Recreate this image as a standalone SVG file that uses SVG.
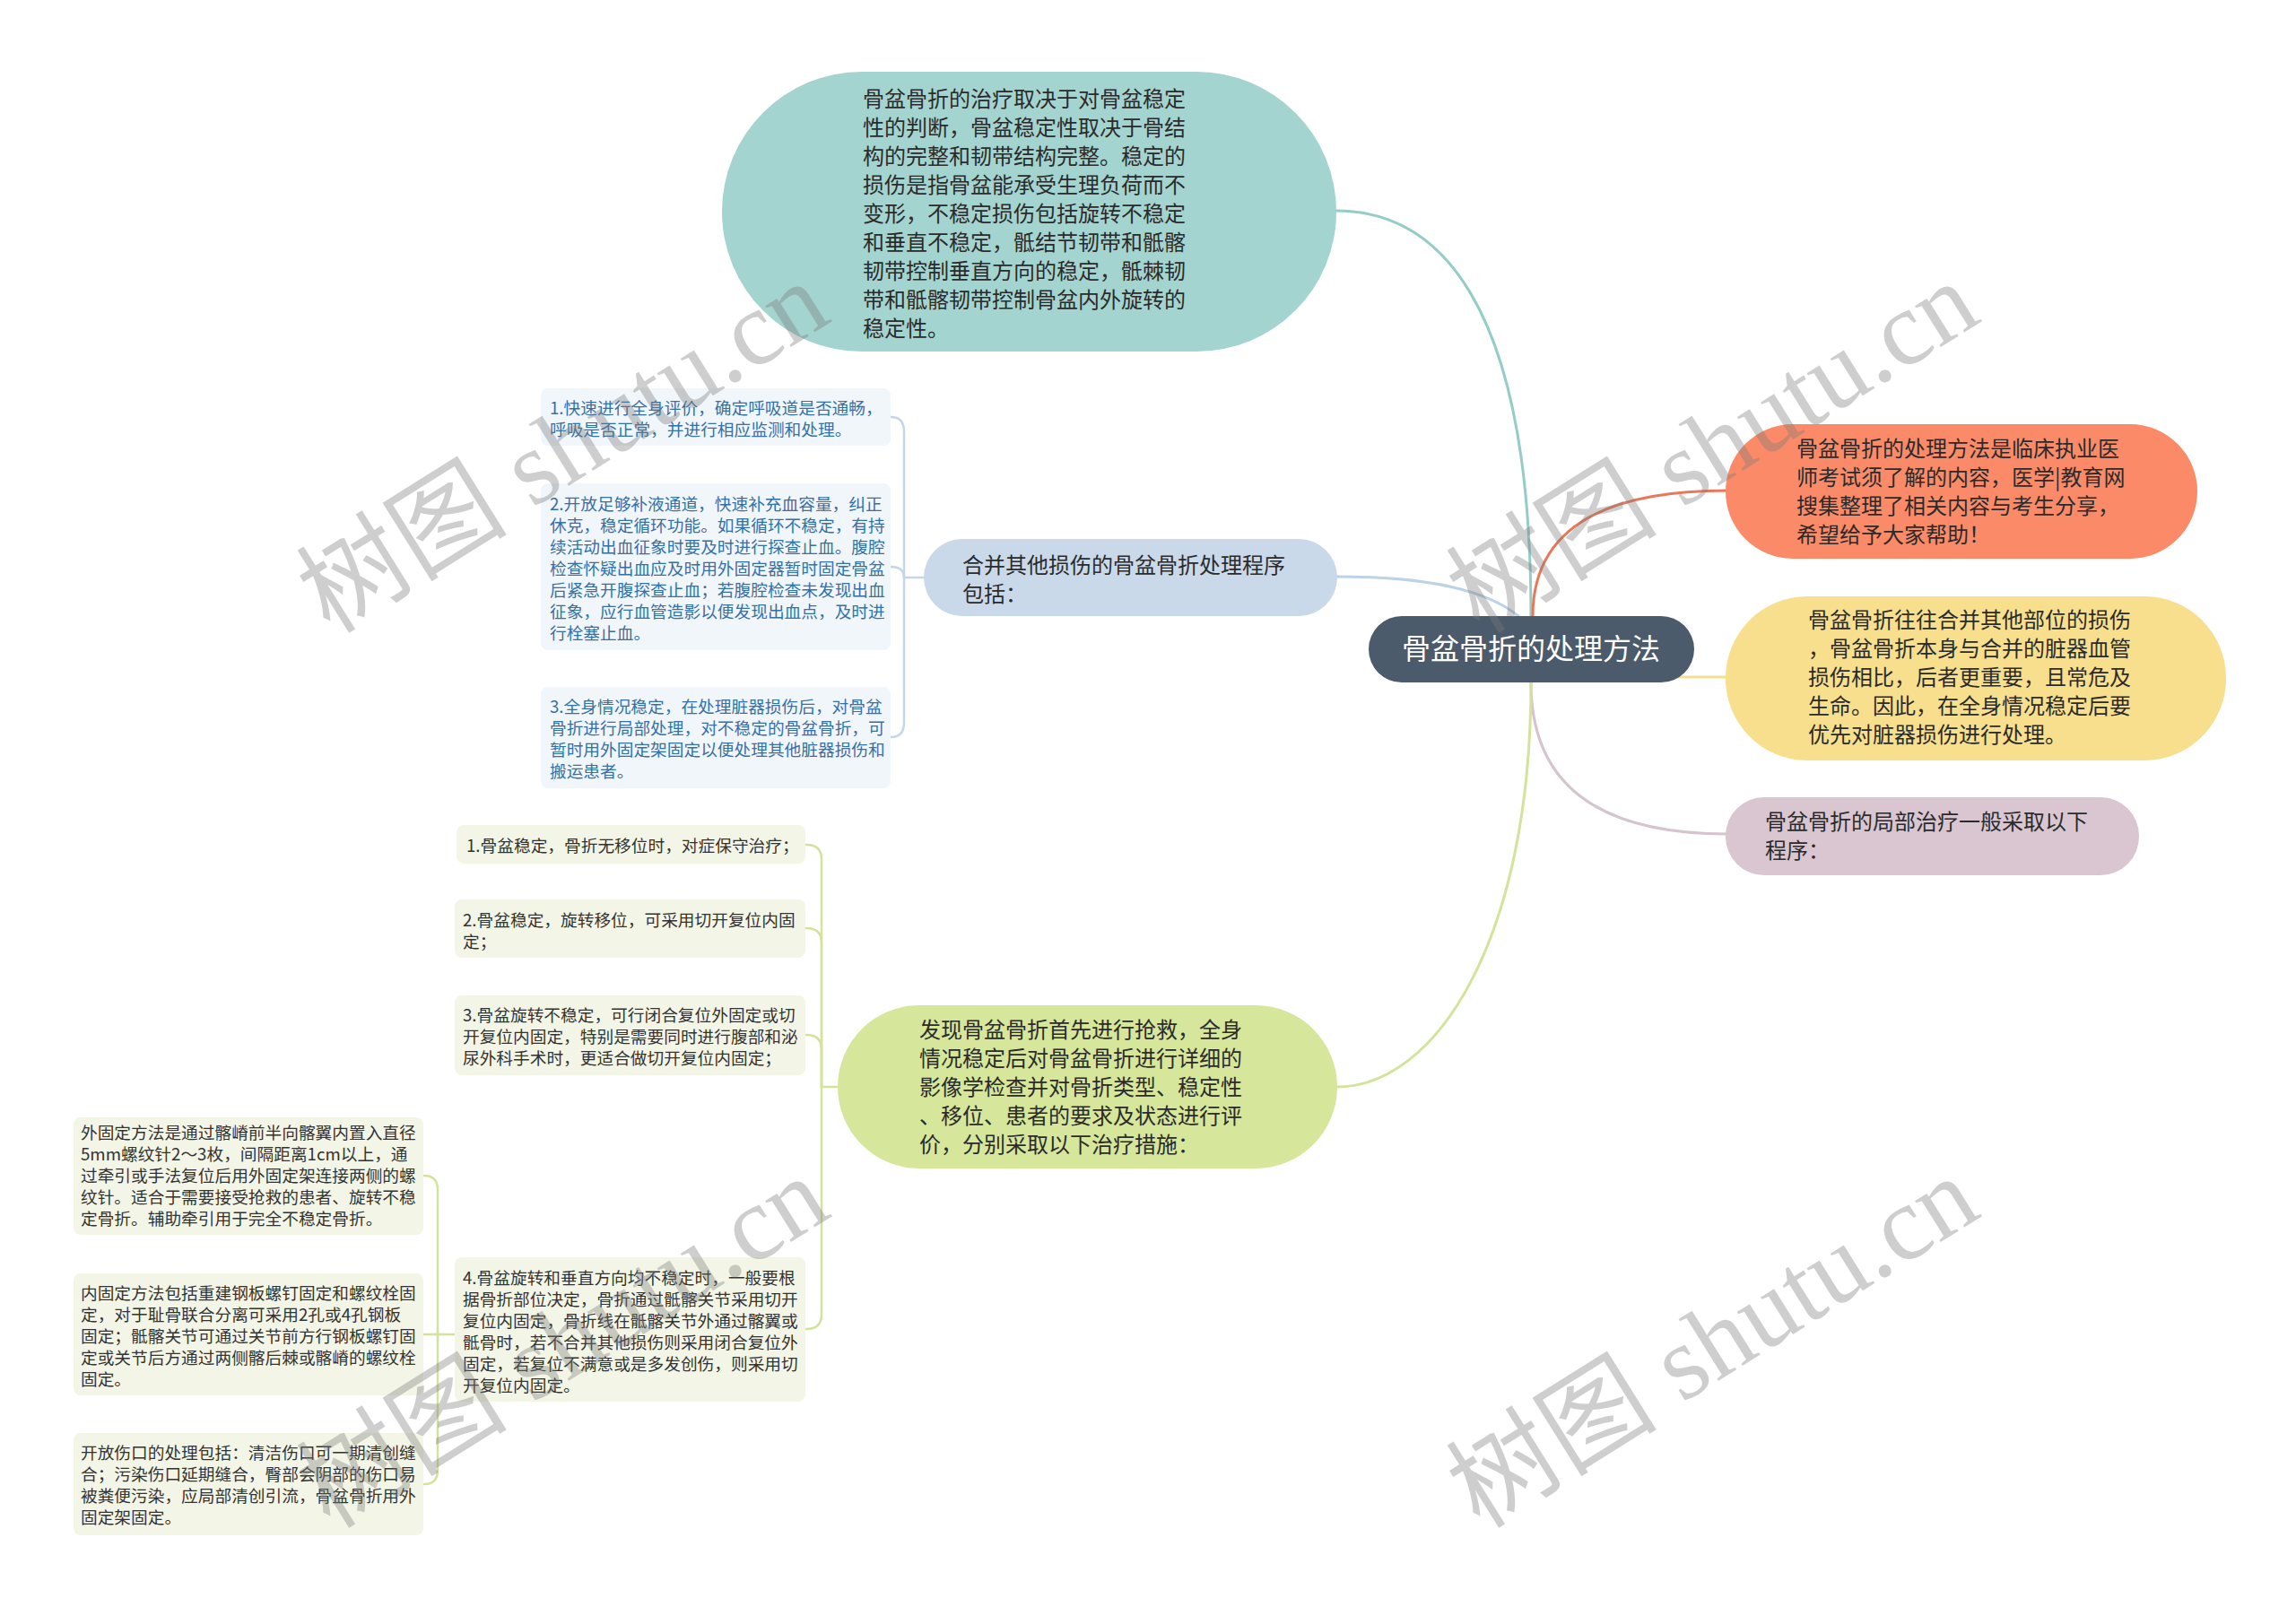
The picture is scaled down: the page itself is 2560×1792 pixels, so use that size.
<svg xmlns="http://www.w3.org/2000/svg" width="2560" height="1792" viewBox="0 0 2560 1792">
<style>
text{font-family:'Noto Sans CJK SC','Noto Sans',sans-serif;}
.t24{font-size:24px;fill:#2b2b2b;}
.t18{font-size:18.7px;fill:#333333;}
.tb{font-size:18.7px;fill:#3471a8;}
.c1{fill:none;stroke-width:3;stroke-linecap:round;}
.c2{fill:none;stroke-width:2.5;stroke-linecap:round;}
.wm{font-family:'Liberation Serif','Noto Sans CJK SC',serif;font-size:118px;fill:#7a7a7a;opacity:0.36;}
</style>
<rect x="0" y="0" width="2560" height="1792" fill="#ffffff"/>
<g id="connectors">
<path class="c1" stroke="#93cdc6" d="M1707,687 C1707,330 1600,235 1490,235"/>
<path class="c1" stroke="#e9785a" d="M1709,687 Q1709,547 1926,547"/>
<path class="c1" stroke="#f3df94" d="M1707,755 L1926,755"/>
<path class="c1" stroke="#d5c3cd" d="M1707,761 Q1707,930 1926,930"/>
<path class="c1" stroke="#bcd2e6" d="M1693,687 C1660,660 1600,643 1490,643"/>
<path class="c1" stroke="#d3e39a" d="M1707,761 C1707,1050 1600,1212 1491,1212"/>
<g stroke="#c4d6e8" class="c2">
<path d="M1030,644 H1008"/>
<path d="M1008,644 V481 Q1008,465 993,465"/>
<path d="M1008,644 Q1008,632 993,632"/>
<path d="M1008,644 V806 Q1008,822 993,822"/>
</g>
<g stroke="#d3e29c" class="c2">
<path d="M934,1212 H916"/>
<path d="M916,1212 V958 Q916,942 899,942"/>
<path d="M916,1212 V1051 Q916,1035 899,1035"/>
<path d="M916,1212 V1170 Q916,1154 899,1154"/>
<path d="M916,1212 V1466 Q916,1482 899,1482"/>
<path d="M507,1488 H473"/>
<path d="M488,1488 V1327 Q488,1311 473,1311"/>
<path d="M488,1488 V1639 Q488,1655 473,1655"/>
</g>
</g>
<g id="root">
<rect x="1526" y="687" width="363" height="74" rx="37" fill="#4b5b6b"/>
<text x="1707" y="735" text-anchor="middle" font-size="32" fill="#ffffff">骨盆骨折的处理方法</text>
</g>
<g id="n-top">
<rect x="805" y="80" width="685" height="312" rx="156" fill="#a4d4cf"/>
<text class="t24" x="962" y="119">骨盆骨折的治疗取决于对骨盆稳定</text>
<text class="t24" x="962" y="151">性的判断，骨盆稳定性取决于骨结</text>
<text class="t24" x="962" y="183">构的完整和韧带结构完整。稳定的</text>
<text class="t24" x="962" y="215">损伤是指骨盆能承受生理负荷而不</text>
<text class="t24" x="962" y="247">变形，不稳定损伤包括旋转不稳定</text>
<text class="t24" x="962" y="279">和垂直不稳定，骶结节韧带和骶髂</text>
<text class="t24" x="962" y="311">韧带控制垂直方向的稳定，骶棘韧</text>
<text class="t24" x="962" y="343">带和骶髂韧带控制骨盆内外旋转的</text>
<text class="t24" x="962" y="375">稳定性。</text>
</g>
<g id="n-orange">
<rect x="1924" y="473" width="526" height="150" rx="75" fill="#fa8a68"/>
<text class="t24" x="2003" y="509">骨盆骨折的处理方法是临床执业医</text>
<text class="t24" x="2003" y="541">师考试须了解的内容，医学|教育网</text>
<text class="t24" x="2003" y="573">搜集整理了相关内容与考生分享，</text>
<text class="t24" x="2003" y="605">希望给予大家帮助！</text>
</g>
<g id="n-yellow">
<rect x="1924" y="665" width="558" height="183" rx="91" fill="#f7df8e"/>
<text class="t24" x="2016" y="700">骨盆骨折往往合并其他部位的损伤</text>
<text class="t24" x="2016" y="732">，骨盆骨折本身与合并的脏器血管</text>
<text class="t24" x="2016" y="764">损伤相比，后者更重要，且常危及</text>
<text class="t24" x="2016" y="796">生命。因此，在全身情况稳定后要</text>
<text class="t24" x="2016" y="828">优先对脏器损伤进行处理。</text>
</g>
<g id="n-mauve">
<rect x="1924" y="889" width="461" height="87" rx="43" fill="#d9c6d0"/>
<text class="t24" x="1968" y="925">骨盆骨折的局部治疗一般采取以下</text>
<text class="t24" x="1968" y="957">程序：</text>
</g>
<g id="n-blue">
<rect x="1030" y="601" width="461" height="86" rx="43" fill="#c9d9ea"/>
<text class="t24" x="1073" y="639">合并其他损伤的骨盆骨折处理程序</text>
<text class="t24" x="1073" y="671">包括：</text>
</g>
<g id="n-blue-1">
<rect x="603" y="433" width="390" height="64" rx="8" fill="#f1f6fa"/>
<text class="tb" x="613" y="462">1.快速进行全身评价，确定呼吸道是否通畅，</text>
<text class="tb" x="613" y="486">呼吸是否正常，并进行相应监测和处理。</text>
</g>
<g id="n-blue-2">
<rect x="603" y="539" width="390" height="186" rx="8" fill="#f1f6fa"/>
<text class="tb" x="613" y="569">2.开放足够补液通道，快速补充血容量，纠正</text>
<text class="tb" x="613" y="593">休克，稳定循环功能。如果循环不稳定，有持</text>
<text class="tb" x="613" y="617">续活动出血征象时要及时进行探查止血。腹腔</text>
<text class="tb" x="613" y="641">检查怀疑出血应及时用外固定器暂时固定骨盆</text>
<text class="tb" x="613" y="665">后紧急开腹探查止血；若腹腔检查未发现出血</text>
<text class="tb" x="613" y="689">征象，应行血管造影以便发现出血点，及时进</text>
<text class="tb" x="613" y="713">行栓塞止血。</text>
</g>
<g id="n-blue-3">
<rect x="603" y="766" width="390" height="113" rx="8" fill="#f1f6fa"/>
<text class="tb" x="613" y="795">3.全身情况稳定，在处理脏器损伤后，对骨盆</text>
<text class="tb" x="613" y="819">骨折进行局部处理，对不稳定的骨盆骨折，可</text>
<text class="tb" x="613" y="843">暂时用外固定架固定以便处理其他脏器损伤和</text>
<text class="tb" x="613" y="867">搬运患者。</text>
</g>
<g id="n-green">
<rect x="934" y="1121" width="557" height="182" rx="91" fill="#d6e69a"/>
<text class="t24" x="1025" y="1157">发现骨盆骨折首先进行抢救，全身</text>
<text class="t24" x="1025" y="1189">情况稳定后对骨盆骨折进行详细的</text>
<text class="t24" x="1025" y="1221">影像学检查并对骨折类型、稳定性</text>
<text class="t24" x="1025" y="1253">、移位、患者的要求及状态进行评</text>
<text class="t24" x="1025" y="1285">价，分别采取以下治疗措施：</text>
</g>
<g id="n-green-1">
<rect x="509" y="920" width="389" height="43" rx="8" fill="#f3f6e6"/>
<text class="t18" x="520" y="950">1.骨盆稳定，骨折无移位时，对症保守治疗；</text>
</g>
<g id="n-green-2">
<rect x="507" y="1003" width="391" height="65" rx="8" fill="#f3f6e6"/>
<text class="t18" x="516" y="1033">2.骨盆稳定，旋转移位，可采用切开复位内固</text>
<text class="t18" x="516" y="1057">定；</text>
</g>
<g id="n-green-3">
<rect x="507" y="1110" width="391" height="89" rx="8" fill="#f3f6e6"/>
<text class="t18" x="516" y="1139">3.骨盆旋转不稳定，可行闭合复位外固定或切</text>
<text class="t18" x="516" y="1163">开复位内固定，特别是需要同时进行腹部和泌</text>
<text class="t18" x="516" y="1187">尿外科手术时，更适合做切开复位内固定；</text>
</g>
<g id="n-green-4">
<rect x="507" y="1402" width="391" height="161" rx="8" fill="#f3f6e6"/>
<text class="t18" x="516" y="1432">4.骨盆旋转和垂直方向均不稳定时，一般要根</text>
<text class="t18" x="516" y="1456">据骨折部位决定，骨折通过骶髂关节采用切开</text>
<text class="t18" x="516" y="1480">复位内固定，骨折线在骶髂关节外通过髂翼或</text>
<text class="t18" x="516" y="1504">骶骨时，若不合并其他损伤则采用闭合复位外</text>
<text class="t18" x="516" y="1528">固定，若复位不满意或是多发创伤，则采用切</text>
<text class="t18" x="516" y="1552">开复位内固定。</text>
</g>
<g id="n-ext">
<rect x="82" y="1246" width="390" height="131" rx="8" fill="#f3f6e6"/>
<text class="t18" x="90" y="1270">外固定方法是通过髂嵴前半向髂翼内置入直径</text>
<text class="t18" x="90" y="1294">5mm螺纹针2～3枚，间隔距离1cm以上，通</text>
<text class="t18" x="90" y="1318">过牵引或手法复位后用外固定架连接两侧的螺</text>
<text class="t18" x="90" y="1342">纹针。适合于需要接受抢救的患者、旋转不稳</text>
<text class="t18" x="90" y="1366">定骨折。辅助牵引用于完全不稳定骨折。</text>
</g>
<g id="n-int">
<rect x="82" y="1420" width="390" height="136" rx="8" fill="#f3f6e6"/>
<text class="t18" x="90" y="1449">内固定方法包括重建钢板螺钉固定和螺纹栓固</text>
<text class="t18" x="90" y="1473">定，对于耻骨联合分离可采用2孔或4孔钢板</text>
<text class="t18" x="90" y="1497">固定；骶髂关节可通过关节前方行钢板螺钉固</text>
<text class="t18" x="90" y="1521">定或关节后方通过两侧髂后棘或髂嵴的螺纹栓</text>
<text class="t18" x="90" y="1545">固定。</text>
</g>
<g id="n-open">
<rect x="82" y="1598" width="390" height="114" rx="8" fill="#f3f6e6"/>
<text class="t18" x="90" y="1627">开放伤口的处理包括：清洁伤口可一期清创缝</text>
<text class="t18" x="90" y="1651">合；污染伤口延期缝合，臀部会阴部的伤口易</text>
<text class="t18" x="90" y="1675">被粪便污染，应局部清创引流，骨盆骨折用外</text>
<text class="t18" x="90" y="1699">固定架固定。</text>
</g>
<g id="watermarks">
<text class="wm" transform="translate(368,708) rotate(-32)">树图 shutu.cn</text>
<text class="wm" transform="translate(1650,708) rotate(-32)">树图 shutu.cn</text>
<text class="wm" transform="translate(368,1706) rotate(-32)">树图 shutu.cn</text>
<text class="wm" transform="translate(1650,1706) rotate(-32)">树图 shutu.cn</text>
</g>
</svg>
